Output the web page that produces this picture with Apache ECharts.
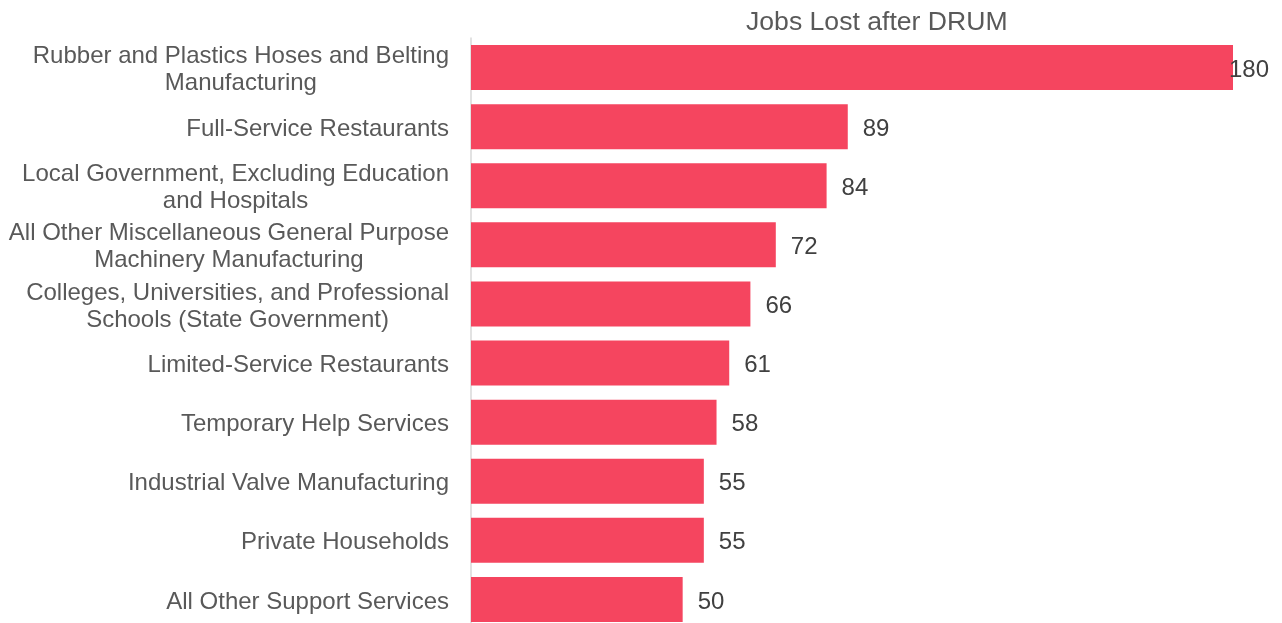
<!DOCTYPE html>
<html>
<head>
<meta charset="utf-8">
<script src="https://cdn.jsdelivr.net/npm/echarts@6/dist/echarts.min.js"></script>
<style>
  html, body { margin: 0; padding: 0; background: #ffffff; }
  #chart { width: 1282px; height: 623px; }
</style>
</head>
<body>
<div id="chart"></div>
<script>
// Industries ranked by jobs lost (top to bottom)
const industries = [
  'Rubber and Plastics Hoses and Belting\nManufacturing',
  'Full-Service Restaurants',
  'Local Government, Excluding Education\nand Hospitals',
  'All Other Miscellaneous General Purpose\nMachinery Manufacturing',
  'Colleges, Universities, and Professional\nSchools (State Government)',
  'Limited-Service Restaurants',
  'Temporary Help Services',
  'Industrial Valve Manufacturing',
  'Private Households',
  'All Other Support Services'
];
const jobsLost = [180, 89, 84, 72, 66, 61, 58, 55, 55, 50];
const seriesName = 'Jobs Lost after DRUM';

const FONT = "'Liberation Sans', Arial, sans-serif";

const chart = echarts.init(document.getElementById('chart'), null, { renderer: 'canvas' });

// The longest bar's label is pulled back so it stays within the plot
const barData = jobsLost.map((v, i) => i === 0
  ? { value: v, label: { offset: [-19, 2.5] } }
  : v);

chart.setOption({
  animation: false,
  backgroundColor: '#ffffff',
  title: {
    text: seriesName,
    left: 741,
    top: 4,
    textStyle: { fontFamily: FONT, fontSize: 26.6, fontWeight: 'normal', color: '#595959' }
  },
  grid: {
    left: 471, right: 49, top: 38, height: 591,
    containLabel: false,
    outerBoundsMode: 'none'
  },
  xAxis: {
    type: 'value',
    min: 0,
    max: 180,
    show: false
  },
  yAxis: {
    type: 'category',
    inverse: true,
    data: industries,
    axisLine: { show: true, lineStyle: { color: '#d9d9d9', width: 1.5 } },
    axisTick: { show: false },
    splitLine: { show: false },
    axisLabel: {
      margin: 22,
      align: 'right',
      padding: [5, 0, 0, 0],
      fontFamily: FONT,
      fontSize: 24,
      lineHeight: 27,
      color: '#595959',
      // each line is centred inside the right-aligned label block
      formatter: (val) => val.split('\n').map(s => '{c|' + s + '}').join('\n'),
      rich: {
        c: { align: 'center', fontFamily: FONT, fontSize: 24, lineHeight: 27, color: '#595959' }
      }
    }
  },
  series: [{
    name: seriesName,
    type: 'bar',
    data: barData,
    barWidth: 45,
    itemStyle: { color: '#F5455F' },
    label: {
      show: true,
      position: 'right',
      distance: 15,
      offset: [0, 2.5],
      fontFamily: FONT,
      fontSize: 24,
      color: '#404040'
    }
  }]
});
</script>
</body>
</html>
